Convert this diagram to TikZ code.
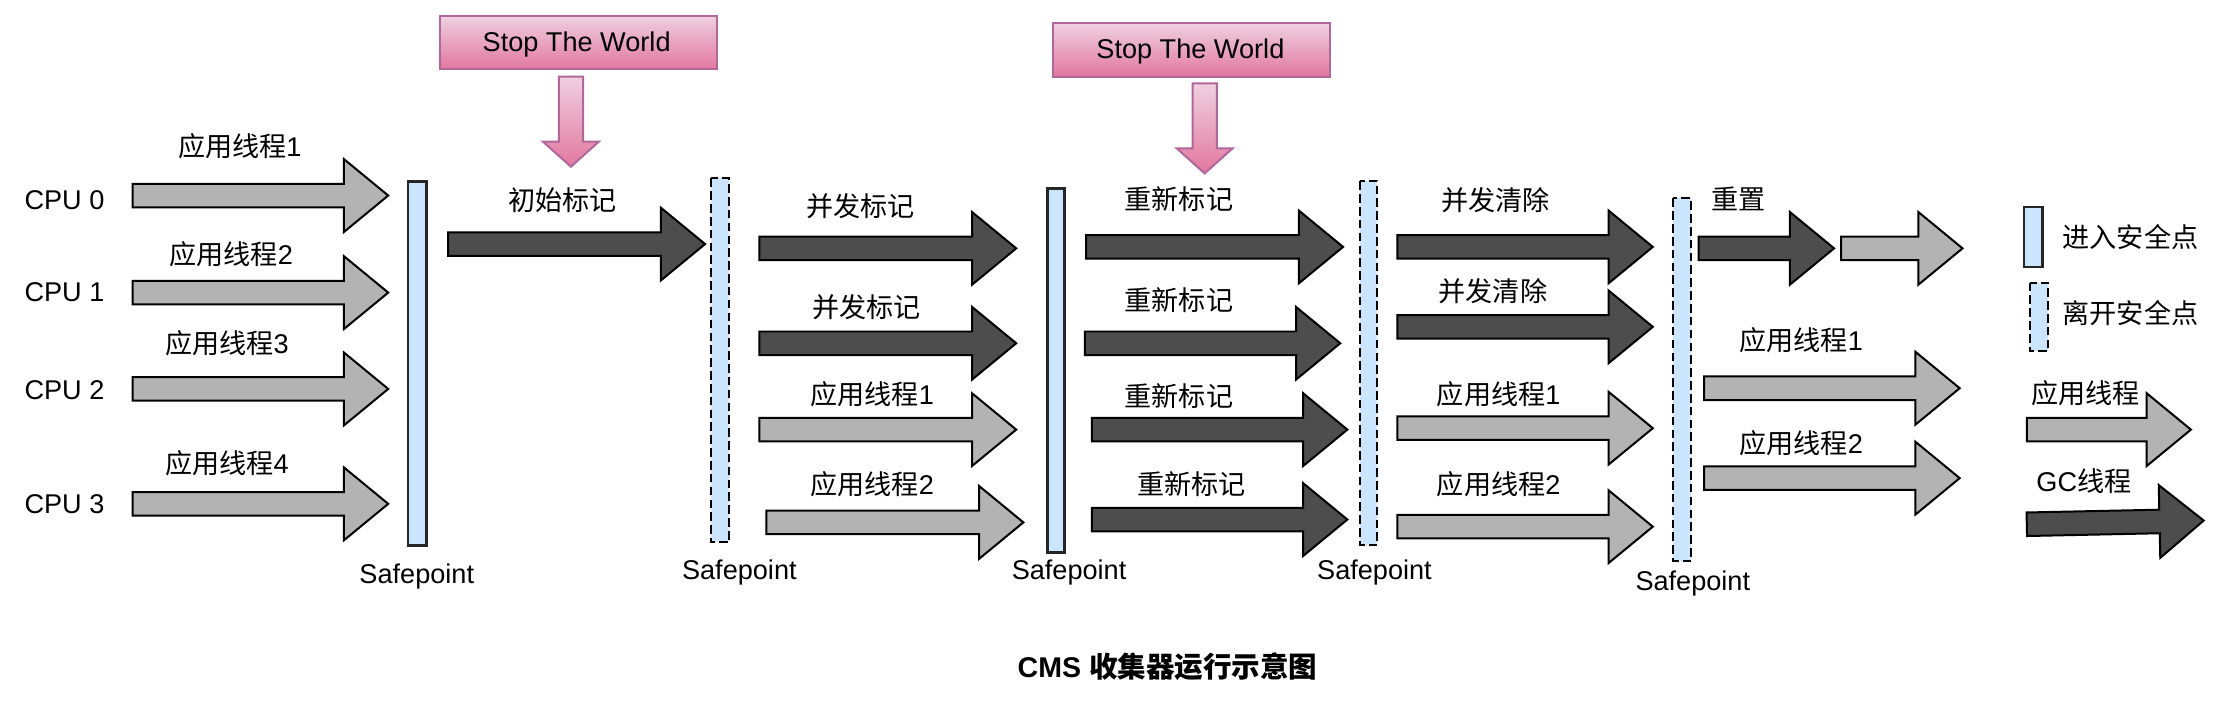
\documentclass[tikz,border=0pt]{standalone}
\usepackage{fontspec}
\setmainfont{Liberation Sans}
\newfontfamily\cjk{Noto Sans CJK SC}
\newcommand\zh[1]{{\cjk #1}}
\definecolor{lgray}{HTML}{B3B3B3}
\definecolor{dgray}{HTML}{4D4D4D}
\definecolor{sfblue}{HTML}{CCE5FF}
\definecolor{pinktop}{HTML}{EFD0E0}
\definecolor{pinkbot}{HTML}{E2779F}
\definecolor{pinkline}{HTML}{B0679A}
\newcommand\blk[4]{% xl, xtip, yc, style
  \draw[#4] (#1,{#3-8.25}) -- ({#2-31},{#3-8.25}) -- ({#2-31},{#3-25.5}) -- (#2,#3)
    -- ({#2-31},{#3+25.5}) -- ({#2-31},{#3+8.25}) -- (#1,{#3+8.25}) -- cycle;}
\newcommand\downarr[4]{% xc, ytop, yheadbase, ytip
  \draw[stw] ({#1-8.5},#2) -- ({#1+8.5},#2) -- ({#1+8.5},#3) -- ({#1+19.5},#3) -- (#1,#4)
    -- ({#1-19.5},#3) -- ({#1-8.5},#3) -- cycle;}
\tikzset{
  garr/.style={fill=lgray, draw=black, line width=1.4pt, line join=miter},
  darr/.style={fill=dgray, draw=black, line width=1.4pt, line join=miter},
  stw/.style={top color=pinktop, bottom color=pinkbot, draw=pinkline, line width=1.4pt},
  enterbar/.style={fill=sfblue, draw=black!85, line width=1.8pt},
  leavebar/.style={fill=sfblue, draw=black, line width=1.5pt, dash pattern=on 6pt off 3pt},
  lbl/.style={inner sep=0pt, anchor=base, font=\fontsize{19}{22}\selectfont},
  lblw/.style={lbl, anchor=base west},
}
\begin{document}
\begin{tikzpicture}[x=1pt, y=-1pt]
\useasboundingbox (0,0) rectangle (1568,499);
\fill[white] (0,0) rectangle (1568,499);

% Stop The World boxes and arrows
\draw[stw] (308,11) rectangle (502,48.6);
\node[lbl] (stw1) at (404,36) {Stop The World};
\downarr{400}{53.7}{99.3}{116.8}
\draw[stw] (738,16) rectangle (932,53.7);
\node[lbl] (stw2) at (834,41) {Stop The World};
\downarr{844}{58.4}{104}{121.5}

% CPU labels
\node[lblw] (cpu0) at (17,147) {CPU 0};
\node[lblw] (cpu1) at (17,211) {CPU 1};
\node[lblw] (cpu2) at (17,280) {CPU 2};
\node[lblw] (cpu3) at (17,360) {CPU 3};

% column 1
\blk{93}{272}{137}{garr}
\blk{93}{272}{205}{garr}
\blk{93}{272}{272.5}{garr}
\blk{93}{272}{353}{garr}
\node[lbl] (a1) at (168,109.5) {\zh{应用线程}1};
\node[lbl] (a2) at (162,185.5) {\zh{应用线程}2};
\node[lbl] (a3) at (159,247.5) {\zh{应用线程}3};
\node[lbl] (a4) at (159,331.5) {\zh{应用线程}4};

% safepoint 1
\draw[enterbar] (286,127) rectangle (299,382);
\node[lbl] (sp1) at (292,409) {Safepoint};

% initial mark
\blk{314}{494}{171}{darr}
\node[lbl] (im) at (394,147.5) {\zh{初始标记}};

% safepoint 2
\draw[leavebar] (498,125) rectangle (511,380);
\node[lbl] (sp2) at (518,406) {Safepoint};

% column 2
\blk{532}{712}{174}{darr}
\blk{532}{712}{240.5}{darr}
\blk{532}{712}{301}{garr}
\blk{537}{717}{366}{garr}
\node[lbl] (cm1) at (603,151.5) {\zh{并发标记}};
\node[lbl] (cm2) at (607,222.5) {\zh{并发标记}};
\node[lbl] (b1) at (611,283.5) {\zh{应用线程}1};
\node[lbl] (b2) at (611,346.5) {\zh{应用线程}2};

% safepoint 3
\draw[enterbar] (734,132) rectangle (746,387);
\node[lbl] (sp3) at (749,406) {Safepoint};

% column 3
\blk{761}{941}{173}{darr}
\blk{760}{939}{240.5}{darr}
\blk{765}{944}{301}{darr}
\blk{765}{944}{364}{darr}
\node[lbl] (rm1) at (826,146.5) {\zh{重新标记}};
\node[lbl] (rm2) at (826,217.5) {\zh{重新标记}};
\node[lbl] (rm3) at (826,284.5) {\zh{重新标记}};
\node[lbl] (rm4) at (835,346.5) {\zh{重新标记}};

% safepoint 4
\draw[leavebar] (953,127) rectangle (965,382);
\node[lbl] (sp4) at (963,406) {Safepoint};

% column 4
\blk{979}{1158}{173}{darr}
\blk{979}{1158}{229}{darr}
\blk{979}{1158}{300}{garr}
\blk{979}{1158}{369}{garr}
\node[lbl] (cs1) at (1048,147.5) {\zh{并发清除}};
\node[lbl] (cs2) at (1046,211.5) {\zh{并发清除}};
\node[lbl] (c1) at (1050,283.5) {\zh{应用线程}1};
\node[lbl] (c2) at (1050,346.5) {\zh{应用线程}2};

% safepoint 5
\draw[leavebar] (1172,139) rectangle (1185,393);
\node[lbl] (sp5) at (1186,414) {Safepoint};

% column 5
\blk{1190}{1285}{174}{darr}
\blk{1290}{1375}{174}{garr}
\blk{1194}{1373}{272}{garr}
\blk{1194}{1373}{335}{garr}
\node[lbl] (rs) at (1218,146.5) {\zh{重置}};
\node[lbl] (d1) at (1262,245.5) {\zh{应用线程}1};
\node[lbl] (d2) at (1262,317.5) {\zh{应用线程}2};

% legend
\draw[enterbar] (1418,145) rectangle (1431,187);
\node[lblw] (lg1) at (1445,173.5) {\zh{进入安全点}};
\draw[leavebar] (1422,198) rectangle (1435,246);
\node[lblw] (lg2) at (1445,226.5) {\zh{离开安全点}};
\blk{1420}{1535}{301}{garr}
\node[lbl] (lg3) at (1461,282.5) {\zh{应用线程}};
\begin{scope}[rotate around={1.2:(1482,366)}]
\blk{1420}{1544}{366}{darr}
\end{scope}
\node[lbl] (lg4) at (1460,344.5) {GC\zh{线程}};

% title
\node[lbl, font=\fontsize{20}{24}\selectfont\bfseries] (title) at (818,474.5) {CMS \zh{收集器运行示意图}};
\end{tikzpicture}
\end{document}
